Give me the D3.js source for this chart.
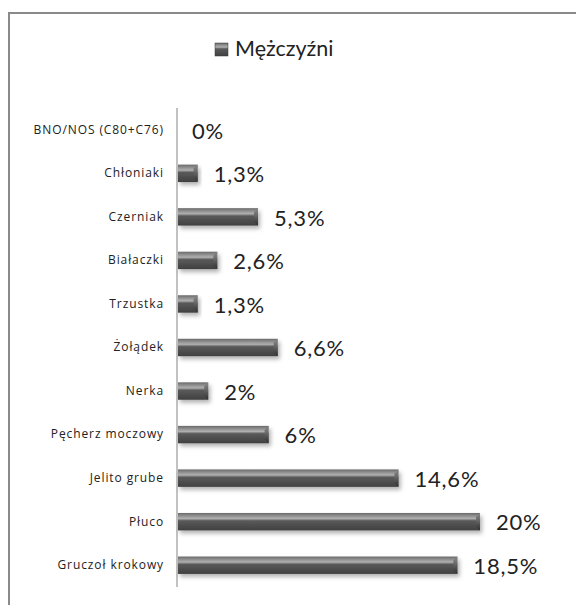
<!DOCTYPE html>
<html>
<head>
<meta charset="utf-8">
<script src="https://cdn.jsdelivr.net/npm/d3@7"></script>
<style>
  body { margin: 0; background: #fff; }
  text { font-family: Lato, "Open Sans", sans-serif; }
</style>
</head>
<body>
<div id="chart"></div>
<script>
// categories top to bottom, and the percent for each
const categories = ["BNO/NOS (C80+C76)", "Chłoniaki", "Czerniak", "Białaczki", "Trzustka",
  "Żołądek", "Nerka", "Pęcherz moczowy", "Jelito grube", "Płuco", "Gruczoł krokowy"];
const values = [0, 1.3, 5.3, 2.6, 1.3, 6.6, 2, 6, 14.6, 20, 18.5];
const seriesName = "Mężczyźni";

const data = categories.map((c, i) => ({ cat: c, val: values[i] }));

const width = 576, height = 605;
const axisX = 177;

const svg = d3.select("#chart")
    .append("svg")
    .attr("width", width)
    .attr("height", height);

const defs = svg.append("defs");

// bar gradient - lighter top band, dark body
const grad = defs.append("linearGradient")
    .attr("id", "barGrad")
    .attr("x1", 0).attr("y1", 0).attr("x2", 0).attr("y2", 1);
grad.append("stop").attr("offset", "0%").attr("stop-color", "#6a6a6a");
grad.append("stop").attr("offset", "15%").attr("stop-color", "#8c8c8c");
grad.append("stop").attr("offset", "32%").attr("stop-color", "#b0b0b0");
grad.append("stop").attr("offset", "45%").attr("stop-color", "#5a5a5a");
grad.append("stop").attr("offset", "100%").attr("stop-color", "#404040");

const capGrad = defs.append("linearGradient")
    .attr("id", "capGrad")
    .attr("x1", 0).attr("y1", 0).attr("x2", 0).attr("y2", 1);
capGrad.append("stop").attr("offset", "0%").attr("stop-color", "#8a8a8a");
capGrad.append("stop").attr("offset", "40%").attr("stop-color", "#6a6a6a");
capGrad.append("stop").attr("offset", "100%").attr("stop-color", "#2e2e2e");

const shadow = defs.append("filter")
    .attr("id", "shadow")
    .attr("x", "-10%").attr("y", "-30%")
    .attr("width", "130%").attr("height", "190%");
shadow.append("feDropShadow")
    .attr("dx", 2).attr("dy", 3)
    .attr("stdDeviation", 2)
    .attr("flood-color", "#000")
    .attr("flood-opacity", 0.3);

// outer frame, runs off the right and bottom edges
svg.append("rect")
    .attr("x", 9).attr("y", 13)
    .attr("width", 600).attr("height", 620)
    .attr("fill", "none")
    .attr("stroke", "#8a8a8a")
    .attr("stroke-width", 2);

// legend
const legend = svg.append("g").attr("transform", "translate(215,43)");
legend.append("rect")
    .attr("width", 13).attr("height", 13)
    .attr("fill", "url(#barGrad)")
    .attr("stroke", "#3a3a3a").attr("stroke-width", 0.5);
legend.append("text")
    .attr("x", 20).attr("y", 13)
    .style("font-size", "21.5px")
    .attr("fill", "#222")
    .text(seriesName);

const x = d3.scaleLinear()
    .domain([0, 20])
    .range([axisX, axisX + 302]);

const y = d3.scaleBand()
    .domain(categories)
    .range([108, 587])
    .paddingInner(0.6)
    .paddingOuter(0.3);

// category axis
const yAxis = d3.axisLeft(y).tickSize(0).tickPadding(13);
const yG = svg.append("g")
    .attr("transform", `translate(${axisX},0)`)
    .call(yAxis);
yG.select(".domain").attr("stroke", "#999").attr("stroke-width", 1.2)
    .attr("d", "M0,108V587");
yG.selectAll("text")
    .style("font-family", "'Open Sans', sans-serif")
    .style("font-size", "12px")
    .style("letter-spacing", "0.9px")
    .attr("fill", "#222");

const rowH = y.bandwidth();

const bars = svg.selectAll(".bar")
    .data(data.filter(d => d.val > 0))
    .enter()
    .append("g")
    .attr("class", "bar")
    .attr("filter", "url(#shadow)");

bars.append("rect")
    .attr("x", x(0) + 1)
    .attr("y", d => y(d.cat))
    .attr("width", d => x(d.val) - x(0))
    .attr("height", rowH)
    .attr("fill", "url(#barGrad)");

// bevelled right end
bars.append("path")
    .attr("d", d => {
        const x1 = x(d.val) + 1, y0 = y(d.cat), y1 = y0 + rowH, b = 4;
        return `M${x1 - b},${y0 + b}L${x1},${y0}L${x1},${y1}L${x1 - b},${y1 - b}Z`;
    })
    .attr("fill", "url(#capGrad)");

// value labels
const fmt = d3.formatLocale({ decimal: ",", thousands: " ", grouping: [3], currency: ["", ""] })
    .format(".1~f");

svg.selectAll(".val")
    .data(data)
    .enter()
    .append("text")
    .attr("class", "val")
    .attr("x", d => x(d.val) + (d.val > 0 ? 17 : 15))
    .attr("y", d => y(d.cat) + rowH / 2)
    .attr("dy", "0.4em")
    .style("font-size", "22px")
    .style("letter-spacing", "0.8px")
    .attr("fill", "#222")
    .text(d => fmt(d.val) + "%");
</script>
</body>
</html>
